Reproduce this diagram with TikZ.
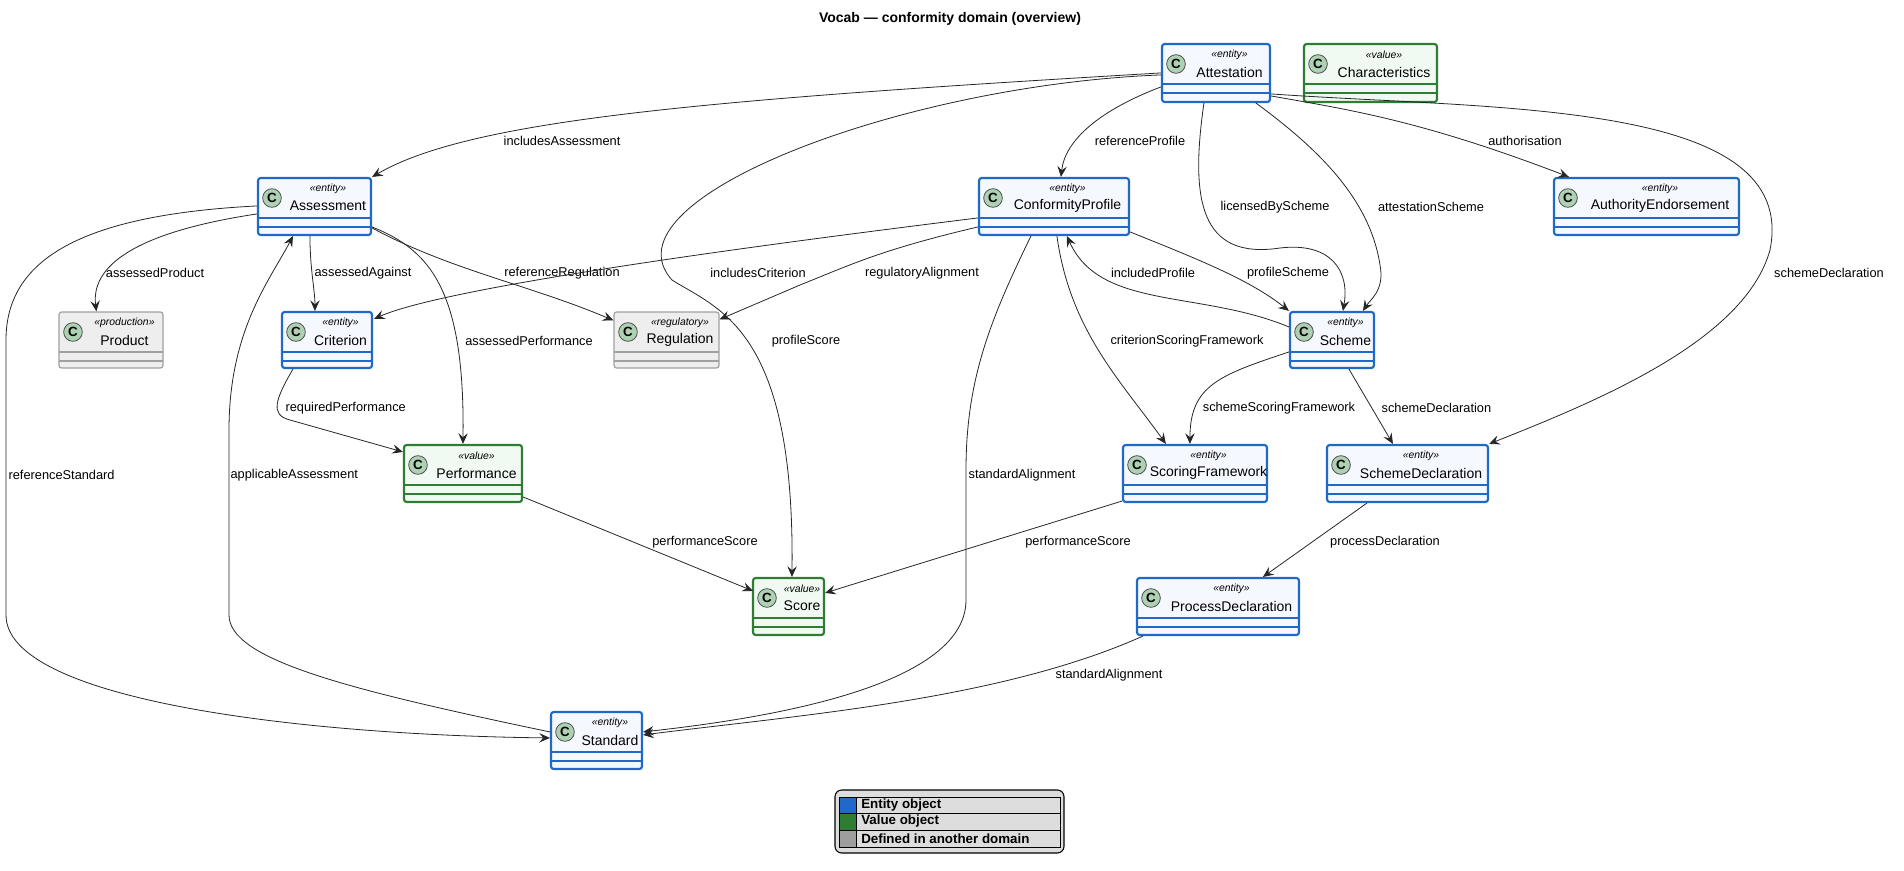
\documentclass[tikz,border=0pt]{standalone}
\usepackage{fontspec}
\setmainfont{Liberation Sans}
\usetikzlibrary{fit,calc,arrows.meta}
\definecolor{entB}{HTML}{1F6AC9}
\definecolor{entF}{HTML}{F5F8FF}
\definecolor{valB}{HTML}{2E7D32}
\definecolor{valF}{HTML}{F1FAF2}
\definecolor{extB}{HTML}{A0A0A0}
\definecolor{extF}{HTML}{EEEEEE}
\definecolor{cFill}{HTML}{ADD1B2}
\definecolor{lgBg}{HTML}{DDDDDD}
\definecolor{lgGrey}{HTML}{9E9E9E}
\tikzset{
  ent/.style={draw=entB, fill=entF, line width=1.6pt},
  val/.style={draw=valB, fill=valF, line width=1.6pt},
  ext/.style={draw=extB, fill=extF, line width=0.9pt},
  edge/.style={draw=black!85, line width=0.6pt, -{Stealth[length=8pt,width=7pt,inset=3pt]}},
  lbl/.style={font=\fontsize{9.6}{11}\selectfont, inner sep=1pt},
}
\newcommand\umlclass[8]{%
  \node[fit={(#2,#3)(#4,#5)}, inner sep=0pt, #8, rounded corners=2pt] (#1) {};
  \draw[#8, fill=none] (#2,#3+40)--(#4,#3+40) (#2,#3+49)--(#4,#3+49);
  \node[circle, fill=cFill, draw=black!70, line width=0.6pt, minimum size=14pt, inner sep=0pt, font=\bfseries\fontsize{10}{10}\selectfont] at (#2+14,#3+20) {C};
  \node[font=\itshape\fontsize{7.8}{9}\selectfont, inner sep=0pt] at ({(#2+27+#4)/2},#3+11) {«#6»};
  \node[font=\fontsize{10.5}{12}\selectfont, inner sep=0pt] at ({(#2+27+#4)/2},#3+28) {#7};
}
\begin{document}
\begin{tikzpicture}[x=0.75pt,y=-0.75pt]
\useasboundingbox (0,0) rectangle (1904,871);
\node[font=\bfseries\fontsize{10.5}{12}\selectfont] (title) at (950,19) {Vocab — conformity domain (overview)};

\umlclass{at}{1162}{44}{1270}{102}{entity}{Attestation}{ent}
\umlclass{ch}{1304}{44}{1437}{102}{value}{Characteristics}{val}
\umlclass{as}{258}{178}{371}{235}{entity}{Assessment}{ent}
\umlclass{cp}{979}{178}{1129}{235}{entity}{ConformityProfile}{ent}
\umlclass{ae}{1554}{178}{1739}{235}{entity}{AuthorityEndorsement}{ent}
\umlclass{pr}{59}{312}{163}{368}{production}{Product}{ext}
\umlclass{cr}{282}{312}{372}{368}{entity}{Criterion}{ent}
\umlclass{rg}{614}{312}{719}{368}{regulatory}{Regulation}{ext}
\umlclass{sch}{1290}{312}{1374}{368}{entity}{Scheme}{ent}
\umlclass{pf}{404}{445}{522}{502}{value}{Performance}{val}
\umlclass{sf}{1123}{445}{1267}{502}{entity}{ScoringFramework}{ent}
\umlclass{sd}{1327}{445}{1488}{502}{entity}{SchemeDeclaration}{ent}
\umlclass{sc}{753}{578}{824}{635}{value}{Score}{val}
\umlclass{pd}{1137}{578}{1299}{635}{entity}{ProcessDeclaration}{ent}
\umlclass{st}{551}{712}{642}{769}{entity}{Standard}{ent}

% edges
\draw[edge] ($(at.north west)+(0,30)$) .. controls (700,100) and (470,120) .. (as.north east);
\node[lbl] at (562,141) {includesAssessment};
\draw[edge] ($(at.north west)+(0,32)$) .. controls (900,85) and (600,200) .. (672,280) .. controls (720,310) and (795,330) .. ($(sc.north west)+(40,0)$);
\node[lbl] at (806,341) {profileScore};
\draw[edge] ($(at.north west)+(0,44)$) .. controls (1100,110) and (1065,140) .. ($(cp.north west)+(83,0)$);
\node[lbl] at (1140,141) {referenceProfile};
\draw[edge] ($(at.south west)+(43,0)$) .. controls (1190,200) and (1200,260) .. (1280,248) .. controls (1330,242) and (1350,270) .. ($(sch.north west)+(54,0)$);
\node[lbl] at (1275,207) {licensedByScheme};
\draw[edge] ($(at.south west)+(95,0)$) .. controls (1320,150) and (1370,200) .. (1380,265) .. controls (1385,290) and (1370,300) .. ($(sch.north west)+(74,0)$);
\node[lbl] at (1431,207) {attestationScheme};
\draw[edge] ($(at.north east)+(0,53)$) .. controls (1350,110) and (1420,120) .. ($(ae.north west)+(16,0)$);
\node[lbl] at (1525,141) {authorisation};
\draw[edge] ($(at.north east)+(0,51)$) .. controls (1500,110) and (1800,100) .. (1770,250) .. controls (1745,340) and (1600,400) .. (sd.north east);
\node[lbl] at (1829,273) {schemeDeclaration};
\draw[edge] ($(as.north west)+(0,37)$) .. controls (150,230) and (90,260) .. ($(pr.north west)+(38,0)$);
\node[lbl] at (155,273) {assessedProduct};
\draw[edge] ($(as.north west)+(0,29)$) .. controls (80,215) and (6,260) .. (6,340) -- (6,615) .. controls (6,700) and (300,735) .. ($(st.north west)+(0,27)$);
\node[lbl,anchor=west] at (7,475) {referenceStandard};
\draw[edge] ($(st.north west)+(0,21)$) .. controls (350,690) and (229,660) .. (229,615) -- (229,430) .. controls (229,330) and (270,280) .. ($(as.south west)+(36,0)$);
\node[lbl,anchor=west] at (229,475) {applicableAssessment};
\draw[edge] ($(as.south west)+(53,0)$) .. controls (310,270) and (315,290) .. ($(cr.north west)+(34,0)$);
\node[lbl,anchor=west] at (313,273) {assessedAgainst};
\draw[edge] ($(as.north east)+(0,50)$) .. controls (430,250) and (465,290) .. ($(pf.north west)+(60,0)$);
\node[lbl] at (529,341) {assessedPerformance};
\draw[edge] ($(as.north east)+(0,51)$) .. controls (450,270) and (530,285) .. ($(rg.north west)+(0,9)$);
\node[lbl] at (562,273) {referenceRegulation};
\draw[edge] ($(cr.south west)+(12,0)$) .. controls (275,400) and (270,415) .. (290,420) -- ($(pf.north west)+(0,8)$);
\node[lbl,anchor=west] at (284,408) {requiredPerformance};
\draw[edge] ($(cp.north west)+(0,41)$) .. controls (800,240) and (450,285) .. ($(cr.north east)+(1,8)$);
\node[lbl] at (758,273) {includesCriterion};
\draw[edge] ($(cp.north west)+(0,50)$) .. controls (880,250) and (850,265) .. (800,285) -- ($(rg.north east)+(0,8)$);
\node[lbl] at (922,273) {regulatoryAlignment};
\draw[edge] ($(cp.south west)+(53,0)$) .. controls (990,320) and (966,380) .. (966,470) -- (966,600) .. controls (966,690) and (750,720) .. ($(st.north east)+(0,21)$);
\node[lbl,anchor=west] at (967,475) {standardAlignment};
\draw[edge] ($(cp.south west)+(79,0)$) .. controls (1070,330) and (1120,380) .. ($(sf.north west)+(44,0)$);
\node[lbl] at (1187,341) {criterionScoringFramework};
\draw[edge] ($(sch.north west)+(0,16)$) .. controls (1200,290) and (1100,310) .. ($(cp.south west)+(89,0)$);
\node[lbl] at (1153,273) {includedProfile};
\draw[edge] ($(cp.north east)+(0,55)$) .. controls (1200,260) and (1250,280) .. (sch.north west);
\node[lbl] at (1288,273) {profileScheme};
\draw[edge] ($(sch.north west)+(0,41)$) .. controls (1220,375) and (1190,385) .. ($(sf.north west)+(68,0)$);
\node[lbl] at (1279,408) {schemeScoringFramework};
\draw[edge] ($(sch.south west)+(60,0)$) -- ($(sd.north west)+(67,0)$);
\node[lbl,anchor=west] at (1380,408) {schemeDeclaration};
\draw[edge] ($(pf.north east)+(0,53)$) -- ($(sc.north west)+(1,14)$);
\node[lbl] at (705,542) {performanceScore};
\draw[edge] ($(sf.south west)+(0,-2)$) -- ($(sc.north east)+(0,16)$);
\node[lbl] at (1078,542) {performanceScore};
\draw[edge] ($(sd.south west)+(41,0)$) -- ($(pd.north west)+(127,0)$);
\node[lbl] at (1385,542) {processDeclaration};
\draw[edge] ($(pd.south west)+(7,0)$) .. controls (1000,700) and (800,715) .. ($(st.north east)+(0,24)$);
\node[lbl] at (1109,675) {standardAlignment};

% legend
\node[fit={(835,790)(1064,853)}, inner sep=0pt, draw=black, fill=lgBg, line width=0.8pt, rounded corners=5pt] (legend) {};
\draw[line width=0.6pt] (839,797) rectangle (1060,847) (839,813)--(1060,813) (839,830)--(1060,830);
\fill[entB] (839.5,797.5) rectangle (856,812.5);
\fill[valB] (839.5,813.5) rectangle (856,829.5);
\fill[lgGrey] (839.5,830.5) rectangle (856,846.5);
\draw[line width=0.6pt] (856,797)--(856,847);
\node[font=\bfseries\fontsize{10}{11}\selectfont, anchor=west, inner sep=0pt] at (861,805) {Entity object};
\node[font=\bfseries\fontsize{10}{11}\selectfont, anchor=west, inner sep=0pt] at (861,821.5) {Value object};
\node[font=\bfseries\fontsize{10}{11}\selectfont, anchor=west, inner sep=0pt] at (861,838.5) {Defined in another domain};
\end{tikzpicture}
\end{document}
